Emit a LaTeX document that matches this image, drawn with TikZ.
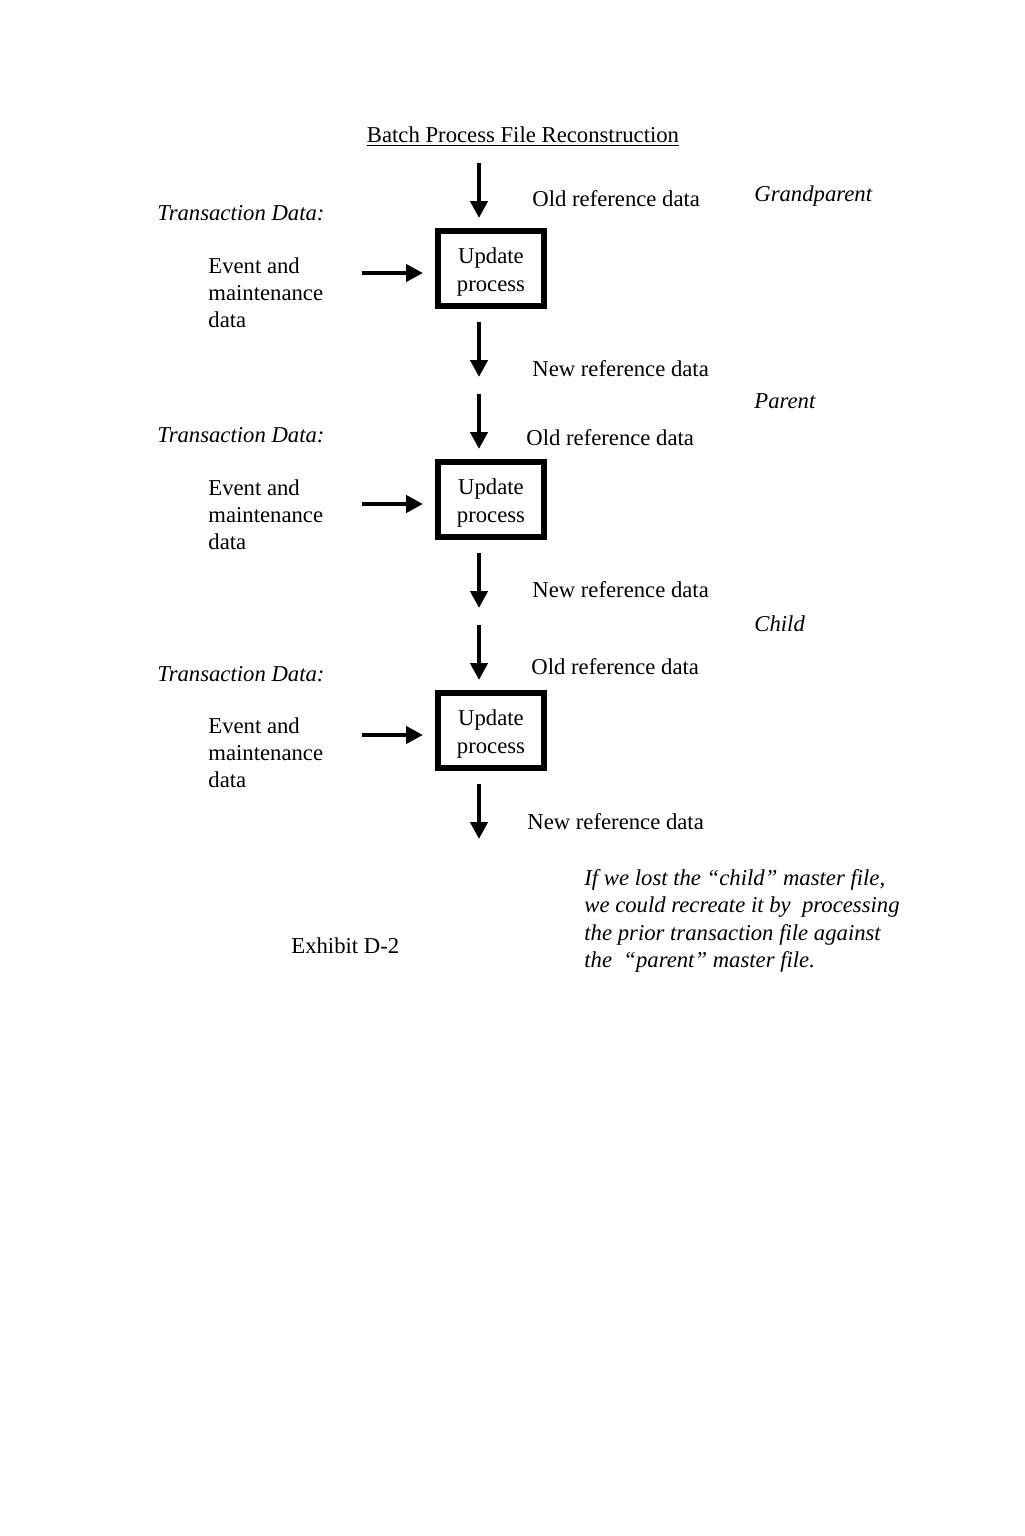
\documentclass[tikz,border=0pt]{standalone}
\usepackage{fontspec}
\setmainfont{Liberation Serif}
\usetikzlibrary{arrows.meta}

\begin{document}
\begin{tikzpicture}[x=0.5pt, y=-0.5pt,
  every node/.style={inner sep=0pt, font=\fontsize{11.35}{13.6}\selectfont},
  updatebox/.style={draw, line width=3pt, minimum width=53pt, minimum height=37.5pt, align=center,
    font=\fontsize{11.35}{14}\selectfont, text height=25.5pt, text depth=2.5pt},
  flow/.style={line width=2.4pt, -{Triangle[length=8.5pt,width=8.5pt]}},
  datalabel/.style={anchor=west},
  tiername/.style={anchor=west, font=\fontsize{11.35}{13.6}\selectfont\itshape}]
  \useasboundingbox (0,0) rectangle (1024,1536);

  \node (title) at (523,136.5) {\underline{Batch Process File Reconstruction}};

  % three update stages
  \foreach \i/\y in {1/268.5, 2/499.5, 3/730.5} {
    \node[updatebox] (box\i) at (491,\y) {Update\\process};
    \coordinate (old\i) at (479,\y-105.5);
    \coordinate (new\i) at (479,\y+108.5);
    \coordinate (event\i) at (362,\y+4.5);
    \draw[flow, shorten >=5pt] (old\i) -- (old\i |- box\i.north);
    \draw[flow, shorten <=6.5pt] (new\i |- box\i.south) -- (new\i);
    \draw[flow, shorten >=6pt] (event\i) -- (event\i -| box\i.west);
  }

  % reference data labels
  \node[datalabel] (oldlbl1) at (532,198.5) {Old reference data};
  \node[datalabel] (newlbl1) at (532,368.5) {New reference data};
  \node[datalabel] (oldlbl2) at (526,437.5) {Old reference data};
  \node[datalabel] (newlbl2) at (532,589.5) {New reference data};
  \node[datalabel] (oldlbl3) at (531,666.5) {Old reference data};
  \node[datalabel] (newlbl3) at (527,821.5) {New reference data};

  % generations
  \node[tiername] (grandparent) at (754,196.5) {Grandparent};
  \node[tiername] (parent) at (754,401.5) {Parent};
  \node[tiername] (child) at (754,623.5) {Child};

  % transaction inputs
  \node[tiername] (trans1) at (157,213.5) {Transaction Data:};
  \node[tiername] (trans2) at (157,435.5) {Transaction Data:};
  \node[tiername] (trans3) at (157,674.5) {Transaction Data:};
  \node[datalabel, align=left] (event1lbl) at (208,292.5) {Event and\\maintenance\\data};
  \node[datalabel, align=left] (event2lbl) at (208,514.5) {Event and\\maintenance\\data};
  \node[datalabel, align=left] (event3lbl) at (208,752.5) {Event and\\maintenance\\data};

  \node[datalabel] (exhibit) at (291,945.5) {Exhibit D-2};
  \node[tiername, align=left] (note) at (584,921)
    {If we lost the “child” master file,\\we could recreate it by~ processing\\the prior transaction file against\\the~ “parent” master file.};
\end{tikzpicture}
\end{document}
